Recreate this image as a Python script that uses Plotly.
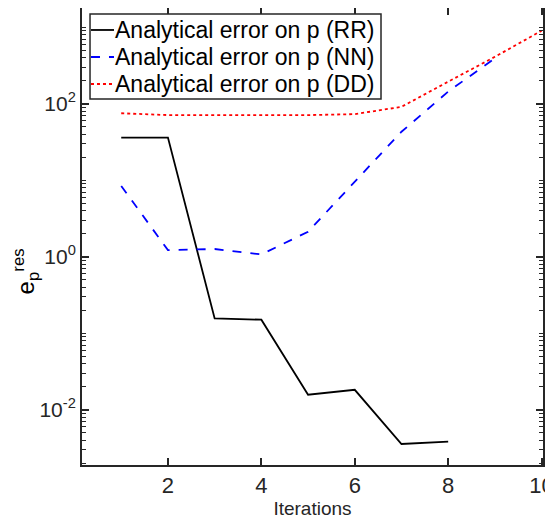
import plotly.graph_objects as go

iterations_rr = [1, 2, 3, 4, 5, 6, 7, 8]
err_rr = [36, 36, 0.156, 0.150, 0.0157, 0.0182, 0.00356, 0.00382]

iterations_nn = [1, 2, 3, 4, 5, 6, 7, 8, 9]
err_nn = [8.4, 1.22, 1.26, 1.07, 2.12, 9.6, 43, 144, 392]

iterations_dd = [1, 2, 3, 4, 5, 6, 7, 8, 9, 10]
err_dd = [75, 71, 71, 71, 71, 73, 91, 194, 410, 900]

names = ["Analytical error on p (RR)", "Analytical error on p (NN)", "Analytical error on p (DD)"]
colors = ["black", "#0000ff", "#ff0000"]
dashes = ["solid", "dash", "dot"]
x_ticks = [2, 4, 6, 8, 10]
y_ticks = [1e-2, 1e0, 1e2]
y_ticktext = ["10<sup>-2</sup>", "10<sup>0</sup>", "10<sup>2</sup>"]

axis_color = "#262626"
font = "Liberation Sans, Arial, Helvetica, sans-serif"

fig = go.Figure()
for xs, ys, nm, c, d in [(iterations_rr, err_rr, names[0], colors[0], dashes[0]),
                         (iterations_nn, err_nn, names[1], colors[1], dashes[1]),
                         (iterations_dd, err_dd, names[2], colors[2], dashes[2])]:
    fig.add_trace(go.Scatter(x=xs, y=ys, mode="lines", name=nm, showlegend=False,
                             line=dict(color=c, width=1.8, dash=d)))

# custom legend (box, samples, labels) in paper coordinates
shapes = [dict(type="rect", xref="paper", yref="paper", x0=0.0174, x1=0.6486,
               y0=0.8009, y1=0.9869, line=dict(color=axis_color, width=1.5),
               fillcolor="white", layer="above")]
annotations = []
row_y = [0.9519, 0.8928, 0.8337]
for ry, nm, c, d in zip(row_y, names, colors, dashes):
    shapes.append(dict(type="line", xref="paper", yref="paper", x0=0.0195, x1=0.0694,
                       y0=ry, y1=ry, line=dict(color=c, width=1.8, dash=d), layer="above"))
    annotations.append(dict(xref="paper", yref="paper", x=0.0672, y=ry, text=nm,
                            showarrow=False, xanchor="left", yanchor="middle",
                            font=dict(size=23, family=font, color="black")))

# y-axis title as a rotated annotation
annotations.append(dict(xref="paper", yref="paper", x=-0.1215, y=0.4236,
                        text="e<sub>p</sub><sup>res</sup>", textangle=-90,
                        showarrow=False, xanchor="center", yanchor="middle",
                        font=dict(size=24, family=font, color="black")))

fig.update_layout(
    width=545, height=515,
    margin=dict(l=74, r=10, t=0, b=58),
    plot_bgcolor="white", paper_bgcolor="white",
    font=dict(family=font, color="black"),
    shapes=shapes, annotations=annotations,
    xaxis=dict(range=[0.16, 10.03], tickvals=x_ticks, ticks="inside", ticklen=7,
               tickwidth=1.5, tickcolor=axis_color, showline=True, linecolor=axis_color,
               linewidth=2, mirror="allticks", showgrid=False, zeroline=False,
               automargin=False, ticklabeloverflow="allow",
               tickfont=dict(size=22, color=axis_color),
               title=dict(text="Iterations", font=dict(size=19, color=axis_color), standoff=2)),
    yaxis=dict(type="log", range=[-2.723, 3.251], tickvals=y_ticks, ticktext=y_ticktext,
               ticks="inside", ticklen=7, tickwidth=1.5, tickcolor=axis_color,
               showline=True, linecolor=axis_color, linewidth=2, mirror="allticks",
               showgrid=False, zeroline=False, automargin=False,
               tickfont=dict(size=21, color=axis_color),
               minor=dict(ticks="inside", ticklen=4, tickwidth=1, tickcolor=axis_color,
                          dtick="D1", showgrid=False)),
)

fig.write_html("out.html")
